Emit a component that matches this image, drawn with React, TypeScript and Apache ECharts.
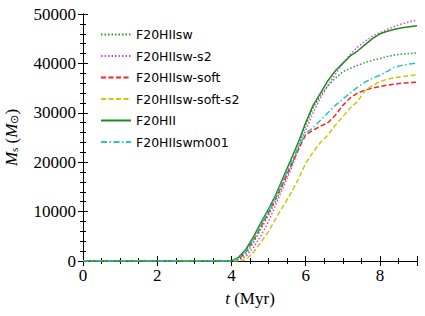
import React, { useEffect, useRef } from "react";
import * as echarts from "echarts";

const times = [0, 4.0, 4.2, 4.4, 4.6, 4.8, 5.0, 5.2, 5.4, 5.6, 5.8, 6.0, 6.2, 6.4, 6.6, 6.8, 7.0, 7.2, 7.4, 7.6, 7.8, 8.0, 8.2, 8.4, 8.6, 8.8, 9.0];

const sw = [0, 0, 300, 1500, 3800, 6500, 9300, 12300, 15600, 19000, 23000, 27500, 31000, 33500, 35500, 37000, 38300, 39000, 39600, 40200, 40600, 41000, 41400, 41700, 41900, 42000, 42100];
const swS2 = [0, 0, 200, 1000, 2800, 5200, 8000, 11500, 15000, 18500, 22500, 26500, 30000, 33000, 35500, 37800, 40000, 41800, 43300, 44500, 45500, 46200, 46900, 47500, 48000, 48400, 48800];
const swSoft = [0, 0, 400, 2000, 4300, 7000, 9800, 12800, 16000, 19300, 22500, 25500, 26500, 27300, 28000, 29500, 31500, 33000, 34000, 34600, 35000, 35300, 35600, 35800, 36000, 36100, 36200];
const swSoftS2 = [0, 0, 0, 300, 1800, 3900, 6000, 8700, 11200, 13700, 16500, 19800, 22000, 24000, 25500, 27500, 29200, 31000, 32300, 34500, 35500, 36300, 36800, 37100, 37300, 37500, 37700];
const hii = [0, 0, 800, 2500, 5000, 7800, 10500, 13500, 17000, 20500, 24000, 28000, 31500, 34000, 36500, 38500, 40000, 41500, 42500, 43800, 45000, 46000, 46500, 46900, 47200, 47400, 47600];
const swm001 = [0, 0, 600, 2200, 4600, 7400, 10200, 13200, 16500, 19800, 23000, 25800, 27000, 28500, 30000, 31500, 32800, 34000, 35200, 36200, 37000, 37600, 38400, 39300, 39600, 39900, 40100];

const seriesNames = ["F20HIIsw", "F20HIIsw-s2", "F20HIIsw-soft", "F20HIIsw-soft-s2", "F20HII", "F20HIIswm001"];
const seriesData = [sw, swS2, swSoft, swSoftS2, hii, swm001];
const colors = ["#2f9a2f", "#e040e0", "#ff2020", "#c8c810", "#1f8a1f", "#20c8c8"];
const dashes: any[] = [[1.5, 2], [1.5, 2], [5, 2.5], [5, 2.5], "solid", [6, 2.5, 1.5, 2.5]];

const xTicks = [0, 2, 4, 6, 8];
const yTicks = [0, 10000, 20000, 30000, 40000, 50000];

export default function App() {
  const ref = useRef<HTMLDivElement>(null);
  useEffect(() => {
    if (!ref.current) return;
    const chart = echarts.init(ref.current, undefined, { renderer: "svg" });
    const serif = "Liberation Serif";
    const axisCommon = {
      axisLine: { show: true, lineStyle: { color: "#000", width: 1 } },
      axisTick: { show: true, inside: true, length: 5, lineStyle: { color: "#000" } },
      minorTick: { show: true, length: 3, lineStyle: { color: "#000" } },
      splitLine: { show: false },
    };
    chart.setOption({
      animation: false,
      backgroundColor: "#fff",
      grid: { left: 83, right: 8, top: 14, bottom: 55, containLabel: false, outerBoundsMode: "none" },
      legend: {
        orient: "vertical",
        left: 95,
        top: 23,
        itemWidth: 30,
        itemHeight: 12,
        itemGap: 8.5,
        data: seriesNames,
        itemStyle: { opacity: 0 },
        textStyle: { fontFamily: "DejaVu Sans", fontSize: 12.5, color: "#000" },
      },
      xAxis: [
        {
          type: "value",
          min: 0,
          max: 9,
          interval: 2,
          ...axisCommon,
          minorTick: { ...axisCommon.minorTick, splitNumber: 4 },
          axisLabel: {
            fontFamily: serif,
            fontSize: 17,
            color: "#000",
            margin: 6,
            formatter: (v: number) => (xTicks.includes(v) ? String(v) : ""),
          },
          name: "{i|t} (Myr)",
          nameLocation: "middle",
          nameGap: 29,
          nameTextStyle: {
            fontFamily: serif,
            fontSize: 17,
            color: "#000",
            rich: { i: { fontFamily: serif, fontStyle: "italic", fontSize: 17 } },
          },
        },
        {
          type: "value",
          position: "top",
          min: 0,
          max: 9,
          interval: 2,
          ...axisCommon,
          minorTick: { ...axisCommon.minorTick, splitNumber: 4 },
          axisLabel: { show: false },
        },
      ],
      yAxis: [
        {
          type: "value",
          min: 0,
          max: 50000,
          interval: 10000,
          ...axisCommon,
          minorTick: { ...axisCommon.minorTick, splitNumber: 5 },
          axisLabel: {
            fontFamily: serif,
            fontSize: 17,
            color: "#000",
            margin: 7,
            formatter: (v: number) => (yTicks.includes(v) ? String(v) : ""),
          },
          name: "{i|M}{s|s} ({i|M}{s|⊙})",
          nameLocation: "middle",
          nameGap: 63,
          nameTextStyle: {
            fontFamily: serif,
            fontSize: 17,
            color: "#000",
            rich: {
              i: { fontFamily: serif, fontStyle: "italic", fontSize: 17 },
              s: { fontFamily: serif, fontSize: 11, padding: [5, 0, 0, 0] },
            },
          },
        },
        {
          type: "value",
          position: "right",
          min: 0,
          max: 50000,
          interval: 10000,
          ...axisCommon,
          minorTick: { ...axisCommon.minorTick, splitNumber: 5 },
          axisLabel: { show: false },
        },
      ],
      series: seriesNames.map((name, i) => ({
        name,
        type: "line",
        xAxisIndex: 0,
        yAxisIndex: 0,
        symbol: "none",
        data: times.map((t, j) => [t, seriesData[i][j]]),
        lineStyle: { color: colors[i], width: 1.5, type: dashes[i] },
        itemStyle: { color: colors[i] },
      })),
    });
    return () => chart.dispose();
  }, []);
  return <div ref={ref} style={{ position: "absolute", left: 0, top: 0, width: 425, height: 316 }} />;
}
